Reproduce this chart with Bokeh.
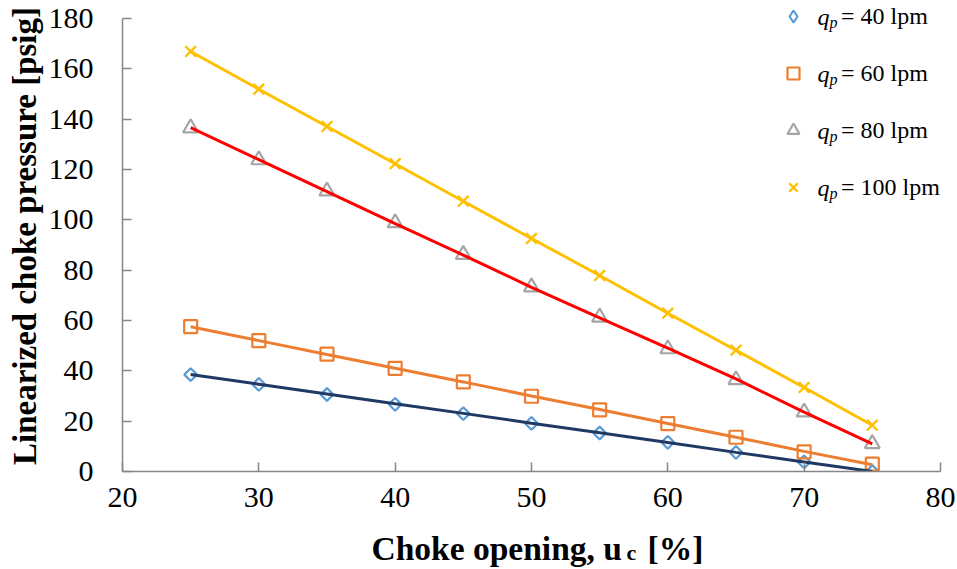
from bokeh.plotting import figure
from bokeh.models import Range1d, FixedTicker, Legend, LegendItem, Label, ColumnDataSource
from bokeh.layouts import column
from bokeh.embed import file_html
from bokeh.resources import INLINE
import math

# ---------------- data ----------------
uc = [25, 30, 35, 40, 45, 50, 55, 60, 65, 70, 75]

meas_40 = [38.5, 34.6, 30.6, 26.7, 23.0, 19.1, 15.3, 11.6, 7.6, 3.8, 0.0]
meas_60 = [57.6, 52.0, 46.6, 41.0, 35.6, 29.9, 24.5, 19.0, 13.6, 7.8, 2.9]
meas_80 = [136.5, 123.8, 111.4, 98.8, 86.2, 73.3, 61.3, 48.7, 36.4, 23.6, 11.0]
meas_100 = [166.9, 151.9, 137.1, 122.3, 107.4, 92.6, 77.9, 62.9, 48.2, 33.4, 18.4]

model_40 = [38.5, 34.7, 30.8, 26.9, 23.1, 19.2, 15.4, 11.5, 7.6, 3.8, 0.0]
model_60 = [57.5, 52.0, 46.5, 41.0, 35.6, 30.0, 24.6, 19.1, 13.6, 8.0, 2.7]
model_80 = [136.6, 123.9, 111.2, 98.5, 86.0, 73.2, 61.0, 49.0, 36.8, 23.6, 11.0]
model_100 = [166.9, 151.9, 137.1, 122.3, 107.4, 92.6, 77.9, 62.9, 48.2, 33.4, 18.4]

series_rates = ["40", "60", "80", "100"]
x_ticks = [20, 30, 40, 50, 60, 70, 80]
y_ticks = [0, 20, 40, 60, 80, 100, 120, 140, 160, 180]

FONT = "Liberation Serif"

# main plot: the frame reaches the top/right edges (axes limited with bounds)
p = figure(width=957, height=530, output_backend="svg", toolbar_location=None,
           title=None,
           x_range=Range1d(20, 81.25), y_range=Range1d(0, 187.15),
           min_border_left=122, min_border_right=0, min_border_top=0,
           min_border_bottom=59)
p.outline_line_color = None
p.grid.visible = False
p.background_fill_color = "white"
p.border_fill_color = "white"

p.xaxis.bounds = (x_ticks[0], x_ticks[-1])
p.yaxis.bounds = (y_ticks[0], y_ticks[-1])
for axs in (p.xaxis, p.yaxis):
    axs.axis_line_color = "#868686"
    axs.axis_line_width = 1.5
    axs.major_tick_line_color = "#868686"
    axs.major_tick_line_width = 1.5
    axs.major_tick_in = 9
    axs.major_tick_out = 0
    axs.minor_tick_line_color = None
    axs.major_label_text_font = FONT
    axs.major_label_text_font_size = "30px"
    axs.major_label_text_color = "black"

p.xaxis.ticker = FixedTicker(ticks=x_ticks)
p.yaxis.ticker = FixedTicker(ticks=y_ticks)
p.xaxis.major_label_standoff = 16
p.yaxis.major_label_standoff = 29

p.yaxis.axis_label = "Linearized choke pressure [psig]"
p.yaxis.axis_label_text_font = FONT
p.yaxis.axis_label_text_font_size = "33px"
p.yaxis.axis_label_text_font_style = "bold"
p.yaxis.axis_label_text_color = "black"
p.yaxis.axis_label_standoff = 3

# ---------------- glyphs ----------------
src = ColumnDataSource(dict(uc=uc, m40=meas_40, m60=meas_60, m80=meas_80, m100=meas_100,
                            f40=model_40, f60=model_60, f80=model_80, f100=model_100))

r40 = p.scatter("uc", "m40", source=src, marker="square", angle=math.pi / 4, size=9,
                fill_color=None, line_color="#5B9BD5", line_width=2.2)
r60 = p.scatter("uc", "m60", source=src, marker="square", size=13, fill_color=None,
                line_color="#ED7D31", line_width=2.2)
r80 = p.scatter("uc", "m80", source=src, marker="triangle", size=15, fill_color=None,
                line_color="#A5A5A5", line_width=2.2)
r100 = p.scatter("uc", "m100", source=src, marker="x", size=15, fill_color=None,
                 line_color="#FFC000", line_width=2.4)

# legend key for the diamond series (legend keys are drawn unrotated), hidden in the plot
key40 = p.scatter("uc", "m40", source=src, marker="diamond", size=13, fill_color=None,
                  line_color="#5B9BD5", line_width=2.2, visible=False)

p.line("uc", "f40", source=src, line_color="#203864", line_width=3)
p.line("uc", "f60", source=src, line_color="#ED7D31", line_width=3)
p.line("uc", "f80", source=src, line_color="#FF0000", line_width=3)
p.line("uc", "f100", source=src, line_color="#FFC000", line_width=3)

# ---------------- legend ----------------
glyph_w, row_h, spacing = 30, 30, 27
leg_x, leg_bottom = 656, 269
legend = Legend(
    items=[LegendItem(label="= %s lpm" % q, renderers=[r])
           for q, r in zip(series_rates, [key40, r60, r80, r100])],
    location=(leg_x, leg_bottom), orientation="vertical",
    glyph_width=glyph_w, glyph_height=row_h, label_height=row_h, spacing=spacing,
    padding=0, margin=0, label_standoff=33, click_policy="none",
    border_line_color=None, background_fill_alpha=0,
    label_text_font=FONT, label_text_font_size="24px", label_text_color="black")
p.add_layout(legend)

n_items = len(series_rates)
leg_top = leg_bottom + n_items * row_h + (n_items - 1) * spacing
for i in range(n_items):
    yc = leg_top - row_h / 2 - i * (row_h + spacing)
    p.add_layout(Label(x=leg_x + 39, y=yc, x_units="screen", y_units="screen", text="q",
                       text_font=FONT, text_font_size="24px", text_font_style="italic",
                       text_baseline="middle", text_color="black"))
    p.add_layout(Label(x=leg_x + 51, y=yc - 6, x_units="screen", y_units="screen", text="p",
                       text_font=FONT, text_font_size="16px", text_font_style="italic",
                       text_baseline="middle", text_color="black"))

# ---------------- x-axis title strip with subscript ----------------
t = figure(width=957, height=39, output_backend="svg", toolbar_location=None, title=None,
           x_axis_type=None, y_axis_type=None, x_range=Range1d(0, 1), y_range=Range1d(0, 1),
           min_border_left=122, min_border_right=0, min_border_top=0, min_border_bottom=0)
t.outline_line_color = None
t.grid.visible = False
t.background_fill_color = "white"
t.border_fill_color = "white"

title_size = 33.5
xt_base = 21
t.add_layout(Label(x=249, y=xt_base, x_units="screen", y_units="screen",
                   text="Choke opening, u", text_font=FONT, text_font_size="%spx" % title_size,
                   text_font_style="bold", text_align="left", text_baseline="alphabetic",
                   text_color="black"))
t.add_layout(Label(x=504, y=xt_base - 4, x_units="screen", y_units="screen",
                   text="c", text_font=FONT, text_font_size="22px",
                   text_font_style="bold", text_align="left", text_baseline="alphabetic",
                   text_color="black"))
t.add_layout(Label(x=525, y=xt_base, x_units="screen", y_units="screen",
                   text="[%]", text_font=FONT, text_font_size="%spx" % title_size,
                   text_font_style="bold", text_align="left", text_baseline="alphabetic",
                   text_color="black"))

layout = column(p, t, spacing=0)
open("out.html", "w").write(file_html(layout, INLINE))
